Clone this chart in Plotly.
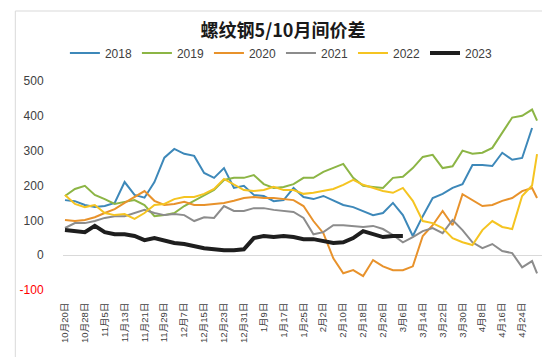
import datetime as dt
import plotly.graph_objects as go

# ---- categories (month-day axis, trading-calendar style) ----
start_day = dt.date(2022, 10, 20)
end_day = dt.date(2023, 5, 2)
skipped_days = [dt.date(2023, 1, 1), dt.date(2023, 4, 5)]
categories = []
d = start_day
while d <= end_day:
    if d not in skipped_days:
        categories.append(f"{d.month}月{d.day}日")
    d += dt.timedelta(days=1)

tick_labels = ["10月20日", "10月28日", "11月5日", "11月13日", "11月21日", "11月29日",
               "12月7日", "12月15日", "12月23日", "12月31日", "1月9日", "1月17日",
               "1月25日", "2月2日", "2月10日", "2月18日", "2月26日", "3月6日",
               "3月14日", "3月22日", "3月30日", "4月8日", "4月16日", "4月24日"]

# sampled dates (every 4th trading day, plus the last one)
sample_dates = categories[0:189:4] + [categories[190]]

y2018 = [158, 155, 144, 138, 141, 150, 210, 173, 165, 210,
         280, 305, 291, 285, 236, 222, 250, 193, 199, 173,
         170, 155, 158, 193, 167, 161, 170, 158, 144, 138,
         127, 115, 121, 150, 115, 55, 112, 164, 176, 193,
         204, 259, 259, 256, 294, 274, 279, 365, None]
y2019 = [170, 190, 199, 173, 161, 147, 153, 158, 144, 112,
         115, 121, 141, 156, 170, 187, 216, 222, 222, 230,
         204, 193, 196, 204, 222, 222, 239, 250, 262, 222,
         199, 196, 193, 222, 225, 250, 282, 288, 250, 255,
         300, 291, 294, 308, 351, 395, 400, 418, 386]
y2020 = [101, 98, 101, 109, 121, 132, 150, 167, 184, 156,
         144, 147, 153, 144, 144, 147, 150, 156, 164, 167,
         164, 164, 161, 158, 141, 98, 63, -9, -52, -43,
         -60, -14, -32, -43, -43, -32, 55, 86, 127, 86,
         175, 158, 141, 144, 156, 164, 184, 193, 164]
y2021 = [78, 92, 92, 98, 107, 112, 112, 121, 130, 121,
         115, 118, 115, 98, 109, 107, 141, 127, 127, 135,
         135, 130, 127, 124, 107, 60, 66, 86, 86, 84,
         81, 84, 75, 58, 37, 52, 69, 78, 63, 101,
         72, 37, 20, 32, 12, 6, -35, -17, -52]
y2022 = [173, 147, 138, 144, 121, 115, 118, 104, 121, 144,
         147, 161, 167, 167, 176, 190, 219, 204, 187, 184,
         187, 196, 187, 187, 176, 179, 184, 190, 202, 216,
         202, 193, 184, 179, 193, 156, 98, 92, 78, 49,
         37, 29, 72, 98, 81, 75, 170, 200, 290]
y2023 = [72, 69, 66, 84, 66, 60, 60, 55, 43, 49,
         43, 35, 32, 26, 20, 17, 14, 14, 17, 49,
         55, 52, 55, 52, 46, 46, 40, 35, 37, 49,
         69, 60, 52, 55, 55] + [None] * 14

series_names = ["2018", "2019", "2020", "2021", "2022", "2023"]
series_values = [y2018, y2019, y2020, y2021, y2022, y2023]
series_colors = ["#3D88B9", "#8CB545", "#E8922B", "#8C8C8C", "#F5C421", "#1E1E1E"]
series_widths = [2, 2, 2, 2, 2, 4]

y_ticks = [-100, 0, 100, 200, 300, 400, 500]
y_ticktext = ["<span style='color:#FF0000'>-100</span>"] + [str(v) for v in y_ticks[1:]]

FONT = "Liberation Sans, Noto Sans CJK SC, sans-serif"

fig = go.Figure()
for name, vals, col, w in zip(series_names, series_values, series_colors, series_widths):
    fig.add_trace(go.Scatter(x=sample_dates, y=vals, mode="lines", name=name,
                             line=dict(color=col, width=w), connectgaps=False))

fig.update_layout(
    width=550, height=357,
    margin=dict(l=52, r=15, t=73, b=75),
    paper_bgcolor="white", plot_bgcolor="white",
    font=dict(family=FONT, color="#404040"),
    title=dict(text="<b>螺纹钢5/10月间价差</b>", x=0.5, xref="container", xanchor="center",
               y=1 - 23 / 357, yref="container", yanchor="middle",
               font=dict(size=18, color="#1a1a1a", family="Noto Sans CJK SC, sans-serif")),
    legend=dict(orientation="h", x=0.455, xanchor="center", y=1.134, yanchor="middle",
                font=dict(size=12, color="#404040"), bgcolor="rgba(0,0,0,0)",
                traceorder="normal"),
    shapes=[dict(type="rect", xref="paper", yref="paper",
                 x0=(4 - 52) / 483, x1=(545 - 52) / 483,
                 y0=(282 - 352) / 209, y1=(282 - 3) / 209,
                 line=dict(color="#D9D9D9", width=1), layer="below")],
)
fig.update_xaxes(type="category", categoryorder="array", categoryarray=categories,
                 range=[-0.8, 192.4], tickmode="array", tickvals=tick_labels, ticktext=tick_labels,
                 tickangle=-90, tickfont=dict(size=9.5, color="#404040"),
                 showgrid=False, showline=False, zeroline=False,
                 ticks="outside", ticklen=8, tickcolor="rgba(0,0,0,0)")
fig.update_yaxes(range=[-100, 500], tickmode="array", tickvals=y_ticks, ticktext=y_ticktext,
                 tickfont=dict(size=12, color="#404040"),
                 showgrid=False, showline=False, zeroline=True, zerolinecolor="#D9D9D9",
                 zerolinewidth=1, ticks="outside", ticklen=16, tickcolor="rgba(0,0,0,0)")

fig.write_html("out.html")
